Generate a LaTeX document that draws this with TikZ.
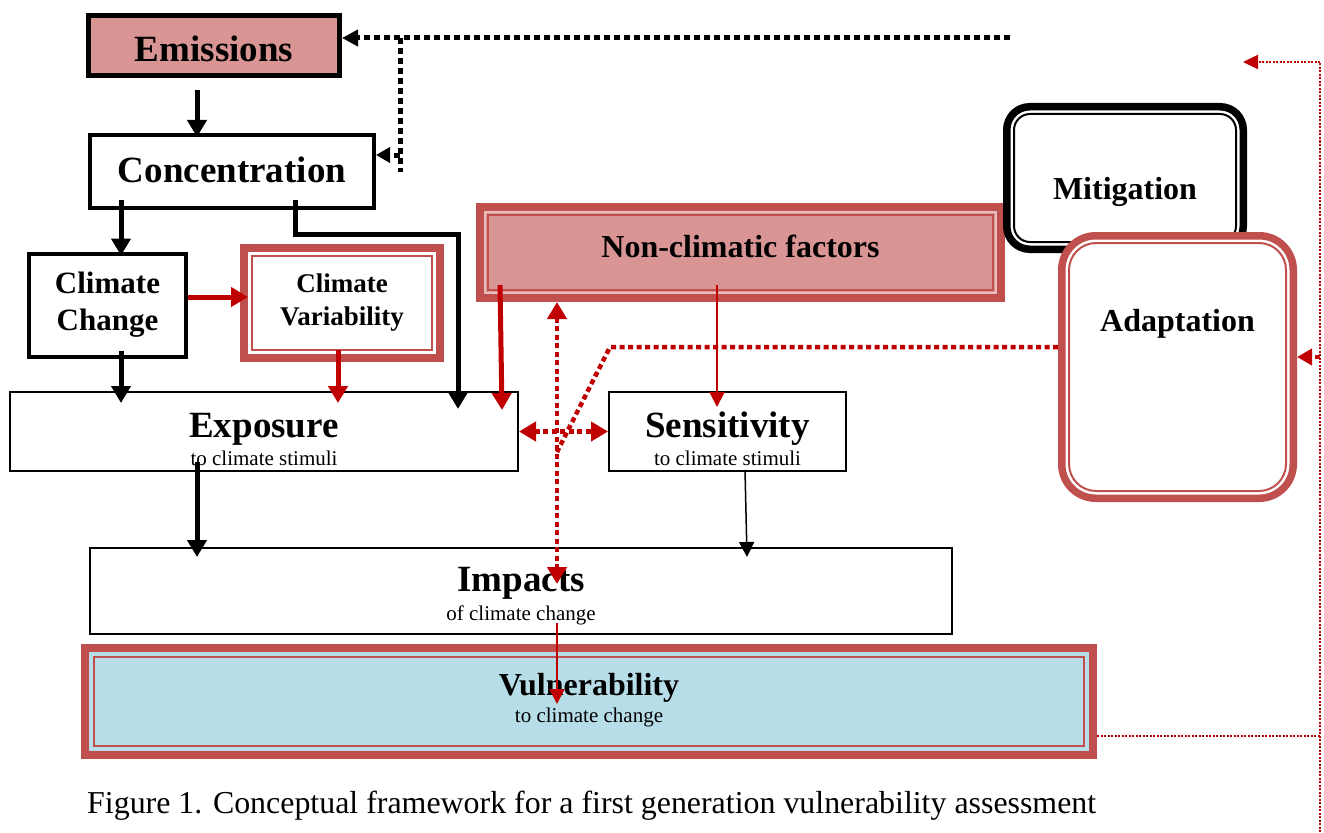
\documentclass[tikz,border=0pt]{standalone}
\usepackage{fontspec}
\setmainfont{Liberation Serif}
\usepackage{tikz}
\usetikzlibrary{arrows.meta}
\definecolor{pinkfill}{HTML}{D99594}
\definecolor{framered}{HTML}{C0504D}
\definecolor{arrowred}{HTML}{C00000}
\definecolor{vulblue}{HTML}{B7DDE8}
\definecolor{lightpink}{HTML}{E8BEBD}
\tikzstyle{blkbox}=[draw=black, inner sep=0pt, fill=white]
\tikzstyle{plainbox}=[draw=black, line width=2pt, inner sep=0pt, fill=white]
\tikzstyle{redframe}=[draw=framered, line width=8pt, inner sep=0pt, align=center]
\tikzstyle{innerred}=[draw=framered, line width=2pt]
\tikzstyle{innerblk}=[draw=black, line width=2pt]
\tikzstyle{bigtitle}=[font=\bfseries\fontsize{37}{37}\selectfont]
\tikzstyle{midtitle}=[font=\bfseries\fontsize{32}{32}\selectfont]
\tikzstyle{subtxt}=[font=\mdseries\fontsize{21}{21}\selectfont, inner sep=0pt, anchor=base]
\tikzstyle{blkarrow}=[draw=black, line width=5pt, -{Triangle[width=19pt,length=17pt]}]
\tikzstyle{redarrow}=[draw=arrowred, line width=5pt, -{Triangle[width=19pt,length=17pt]}]
\tikzstyle{thinarrow}=[line width=2pt, -{Triangle[width=15pt,length=15pt]}]
\tikzstyle{reddot}=[draw=arrowred, line width=4.5pt, dash pattern=on 5pt off 3.5pt]
\tikzstyle{blkdot}=[draw=black, line width=5pt, dash pattern=on 6pt off 4pt]
\tikzstyle{thinreddot}=[draw=arrowred, line width=2pt, dash pattern=on 2pt off 1.5pt]
\tikzstyle{twotips}=[{Triangle[width=19pt,length=17pt]}-{Triangle[width=19pt,length=17pt]}]

\begin{document}
\begin{tikzpicture}[x=1pt, y=-1pt]
    \useasboundingbox (0,0) rectangle (1324,832);
    % Cajas
    \node[blkbox, bigtitle, line width=5pt, fill=pinkfill, minimum width=251pt, minimum height=60pt, text height=33pt, text depth=0pt] (emis) at (214,45.5) {Emissions};
    \node[blkbox, bigtitle, line width=4pt, minimum width=284pt, minimum height=73pt, text height=26pt, text depth=5pt] (conc) at (232,171.5) {Concentration};
    \node[blkbox, line width=4pt, minimum width=157pt, minimum height=103pt, align=center, font=\bfseries\fontsize{31}{37}\selectfont] (cc) at (107.5,305) {Climate\\Change};
    \node[redframe, fill=white, minimum width=196pt, minimum height=110pt, font=\bfseries\fontsize{27}{33}\selectfont] (cv) at (342,303) {Climate\\Variability};
    \draw[innerred] ([shift={(12pt,-12pt)}]cv.north west) rectangle ([shift={(-12pt,12pt)}]cv.south east);
    \node[redframe, fill=pinkfill, minimum width=521pt, minimum height=91pt, font=\bfseries\fontsize{32}{32}\selectfont, text height=22pt, text depth=13pt] (ncf) at (740.5,252.5) {Non-climatic factors};
    \draw[draw=lightpink, line width=2.5pt] ([shift={(9pt,-9pt)}]ncf.north west) rectangle ([shift={(-9pt,9pt)}]ncf.south east);
    \draw[innerred] ([shift={(12pt,-12pt)}]ncf.north west) rectangle ([shift={(-12pt,12pt)}]ncf.south east);
    \node[plainbox, bigtitle, minimum width=508pt, minimum height=79pt, text height=26pt, text depth=15pt, label={[subtxt, yshift=7pt]south:to climate stimuli}] (expo) at (264,431.5) {Exposure};
    \node[plainbox, bigtitle, minimum width=237pt, minimum height=79pt, text height=26pt, text depth=15pt, label={[subtxt, yshift=7pt]south:to climate stimuli}] (sens) at (727.5,431.5) {Sensitivity};
    \node[plainbox, bigtitle, minimum width=862pt, minimum height=86pt, text height=26pt, text depth=26pt, label={[subtxt, yshift=15pt]south:of climate change}] (imp) at (521,591) {Impacts};
    \node[redframe, midtitle, fill=vulblue, minimum width=1008pt, minimum height=107pt, text height=22pt, text depth=35pt, label={[subtxt, yshift=37pt]south:to climate change}] (vul) at (589,701.5) {Vulnerability};
    \draw[innerred, line width=2.5pt] ([shift={(13pt,-13pt)}]vul.north west) rectangle ([shift={(-13pt,13pt)}]vul.south east);
    \node[draw=black, midtitle, line width=7.5pt, fill=white, rounded corners=23pt, minimum width=236.5pt, minimum height=142.5pt, text height=49pt, text depth=7pt] (mit) at (1125,178) {Mitigation};
    \draw[innerblk, rounded corners=16pt] ([shift={(11pt,-11pt)}]mit.north west) rectangle ([shift={(-11pt,11pt)}]mit.south east);
    \node[draw=framered, midtitle, line width=7.5pt, fill=white, rounded corners=34pt, minimum width=231.5pt, minimum height=262.5pt, text height=22pt, text depth=94pt] (adap) at (1177.5,367) {Adaptation};
    \draw[innerred, rounded corners=27pt] ([shift={(11pt,-11pt)}]adap.north west) rectangle ([shift={(-11pt,11pt)}]adap.south east);
    \node[anchor=base west, inner sep=0pt, font=\fontsize{31.9}{32}\selectfont] (caption) at (87,813) {Figure 1. Conceptual framework for a first generation vulnerability assessment};
    % Flechas
    \draw[blkarrow] ([xshift=-17pt,yshift=-12pt]emis.south) -- ([xshift=-35pt,yshift=-4pt]conc.north);
    \draw[blkarrow] ([xshift=-111pt,yshift=10pt]conc.south) -- ([xshift=13.5pt,yshift=-4pt]cc.north);
    \draw[blkarrow] ([xshift=63pt,yshift=10pt]conc.south) -- ++(0,34) -| ([xshift=194pt,yshift=-18pt]expo.north);
    \draw[redarrow] ([yshift=8pt]cc.east) -- ([xshift=8pt,yshift=6pt]cv.west);
    \draw[blkarrow] ([xshift=13.5pt,yshift=8pt]cc.south) -- ([xshift=-143pt,yshift=-12pt]expo.north);
    \draw[redarrow] ([xshift=-4pt,yshift=12pt]cv.south) -- ([xshift=74pt,yshift=-12pt]expo.north);
    \draw[redarrow] ([xshift=-240.5pt,yshift=17pt]ncf.south) -- ([xshift=238pt,yshift=-19pt]expo.north);
    \draw[thinarrow, arrowred] ([xshift=-23.5pt,yshift=17pt]ncf.south) -- ([xshift=-10.5pt,yshift=-16pt]sens.north);
    \draw[blkarrow] ([xshift=-67pt,yshift=10pt]expo.south) -- ([xshift=-324pt,yshift=-10pt]imp.north);
    \draw[thinarrow, line width=1.5pt] ([xshift=17.5pt,yshift=2pt]sens.south) -- ([xshift=226pt,yshift=-10pt]imp.north);
    \draw[thinarrow, arrowred] ([xshift=36pt,yshift=12pt]imp.south) -- ([xshift=-32pt,yshift=-60pt]vul.north);
    % Punteadas
    \draw[reddot, twotips] (expo.east) -- (sens.west);
    \draw[reddot, twotips] ([xshift=-183.5pt]ncf.south) -- ([xshift=36pt,yshift=-37pt]imp.north);
    \draw[reddot] ([yshift=20pt]adap.west) -- (610,347) -- (557,452);
    \coordinate (topend) at (1010,38);
    \coordinate (fork) at (400,38);
    \coordinate (forkc) at (400,155);
    \draw[blkdot, -{Triangle[width=16pt,length=16pt]}] (topend) -- (topend -| emis.east);
    \draw[blkdot] (fork) -- ++(0,134);
    \draw[blkdot, -{Triangle[width=15pt,length=14pt]}] (forkc) -- (forkc -| conc.east);
    \coordinate (fbtop) at (1243,62);
    \coordinate (fbbot) at (1320,832);
    \coordinate (fbvul) at (1320,736);
    \coordinate (fbadap) at (1320,357);
    \draw[thinreddot] (fbvul -| vul.east) -- (fbvul);
    \draw[thinreddot, -{Triangle[width=14pt,length=15pt]}] (fbbot) |- (fbtop);
    \draw[reddot, -{Triangle[width=16pt,length=15pt]}] (fbadap) -- (fbadap -| adap.east);
\end{tikzpicture}
\end{document}
